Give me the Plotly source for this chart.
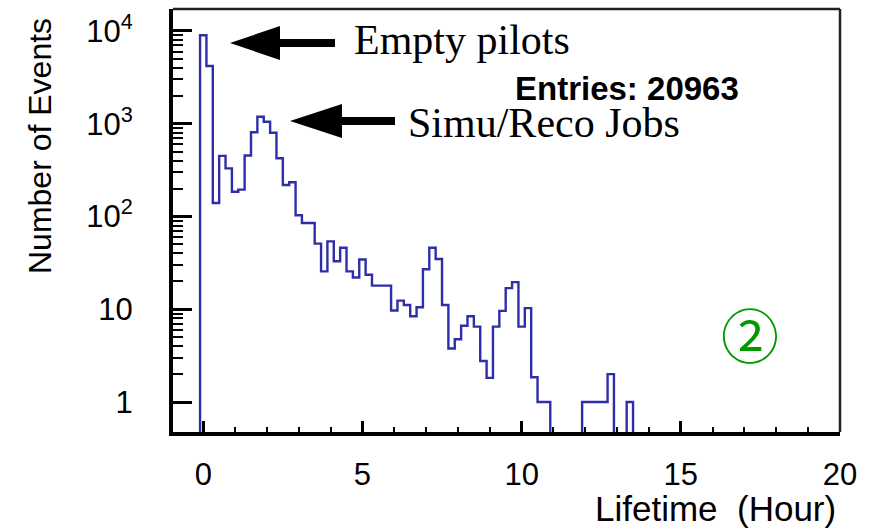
import plotly.graph_objects as go

# ---- data ----
bin_width = 0.2          # hours
first_edge = -0.1        # left edge of first bin
counts = [
    9000, 4200, 140, 450, 330, 185, 195, 454, 810, 1190,
    1050, 800, 425, 219, 234, 103, 85, 85, 51, 25.6,
    54, 33, 46, 25.6, 22, 34.4, 23.6, 18, 18, 18,
    9.7, 12.4, 11.1, 8.4, 10.5, 27, 46, 34.8, 11.1, 3.77,
    4.75, 6.65, 8.4, 6.5, 2.77, 1.82, 6.5, 9.6, 16.9, 19.6,
    6.5, 10.3, 1.85, 1, 1, 0, 0, 0, 0, 0,
    1, 1, 1, 1, 2, 0, 0, 1,
]
y_tickvals = [1, 10, 100, 1000, 10000]
y_ticktext = ["1", "10", "10<sup>2</sup>", "10<sup>3</sup>", "10<sup>4</sup>"]
x_tickvals = [0, 5, 10, 15, 20]
entries_label = "Entries: 20963"

# ---- step outline of the histogram ----
floor = 0.05  # below visible range (stands in for empty bins on log axis)
edges = [first_edge + i * bin_width for i in range(len(counts) + 1)]
ys = [c if c > 0 else floor for c in counts]
step_x = [edges[0]] + edges[:-1] + [edges[-1]]
step_y = [floor] + ys + [floor]

W, H = 874, 528
L, R, T, B = 173, 840, 9, 432  # plot area in pixels


def px(x):
    return (x - L) / (R - L)


def py(y):
    return (B - y) / (B - T)


fig = go.Figure()
fig.add_trace(go.Scatter(
    x=step_x, y=step_y, mode="lines", line_shape="hv",
    line=dict(color="#2e2eaa", width=2.4), hoverinfo="skip", showlegend=False,
))

minor_y = [m * 10 ** d for d in range(0, 5) for m in range(2, 10)]

font_sans = "Liberation Sans, Arial, sans-serif"
font_serif = "Liberation Serif, Times New Roman, serif"

fig.update_layout(
    width=W, height=H,
    margin=dict(l=L, r=W - R, t=T, b=H - B),
    paper_bgcolor="white", plot_bgcolor="white",
    showlegend=False,
    xaxis=dict(
        range=[-0.95, 20], tickmode="array", tickvals=x_tickvals,
        ticks="inside", ticklen=11, tickwidth=3, tickcolor="black",
        minor=dict(ticks="inside", dtick=1, tick0=0, ticklen=5, tickwidth=2, tickcolor="black", showgrid=False),
        showgrid=False, zeroline=False,
        showline=True, linewidth=4, linecolor="black",
        tickfont=dict(family=font_sans, size=31, color="black"),
        ticklabelstandoff=12,
    ),
    yaxis=dict(
        type="log", range=[-0.323, 4.237],
        tickmode="array", tickvals=y_tickvals, ticktext=y_ticktext,
        ticks="inside", ticklen=19, tickwidth=3, tickcolor="black",
        minor=dict(ticks="inside", tickmode="array", tickvals=minor_y, ticklen=10, tickwidth=2,
                   tickcolor="black", showgrid=False),
        showgrid=False, zeroline=False,
        showline=True, linewidth=4, linecolor="black",
        tickfont=dict(family=font_sans, size=31, color="black"),
        ticklabelstandoff=30,
    ),
)

shapes = [
    dict(type="line", xref="paper", yref="paper", x0=0, x1=1, y0=1, y1=1,
         line=dict(color="#222", width=2.5)),
    dict(type="line", xref="paper", yref="paper", x0=1, x1=1, y0=0, y1=1,
         line=dict(color="#222", width=2.5)),
]


def arrow_path(tip_x, tip_y, head_len, head_half, shaft_end, shaft_half):
    pts = [
        (tip_x, tip_y),
        (tip_x + head_len, tip_y - head_half),
        (tip_x + head_len, tip_y - shaft_half),
        (shaft_end, tip_y - shaft_half),
        (shaft_end, tip_y + shaft_half),
        (tip_x + head_len, tip_y + shaft_half),
        (tip_x + head_len, tip_y + head_half),
    ]
    return "M " + " L ".join(f"{px(a):.5f},{py(b):.5f}" for a, b in pts) + " Z"


for tip in [(230, 43, 50, 17, 335, 4), (290, 121, 52, 17, 395, 4)]:
    shapes.append(dict(type="path", xref="paper", yref="paper", path=arrow_path(*tip),
                       fillcolor="black", line=dict(color="black", width=0)))
fig.update_layout(shapes=shapes)

ann = [
    dict(text="Empty pilots", x=px(352), y=py(40), xanchor="left", yanchor="middle",
         font=dict(family=font_serif, size=42, color="black")),
    dict(text="Simu/Reco Jobs", x=px(406), y=py(123), xanchor="left", yanchor="middle",
         font=dict(family=font_serif, size=42, color="black")),
    dict(text="<b>" + entries_label + "</b>", x=px(513), y=py(88), xanchor="left", yanchor="middle",
         font=dict(family=font_sans, size=33, color="black")),
    dict(text="\u2461", x=px(750), y=py(333), xanchor="center", yanchor="middle",
         font=dict(family="Noto Sans CJK JP", size=58, color="#009a00")),
    dict(text="Number of Events", x=px(40), y=py(146), xanchor="center", yanchor="middle",
         textangle=-90, font=dict(family=font_sans, size=32, color="black")),
    dict(text="Lifetime  (Hour)", x=px(838), y=py(508), xanchor="right", yanchor="middle",
         font=dict(family=font_sans, size=35, color="black")),
]
for a in ann:
    a.update(xref="paper", yref="paper", showarrow=False)
fig.update_layout(annotations=ann)

fig.write_html("out.html", config={"displayModeBar": False},
               post_script="document.body.style.margin='0px';")
